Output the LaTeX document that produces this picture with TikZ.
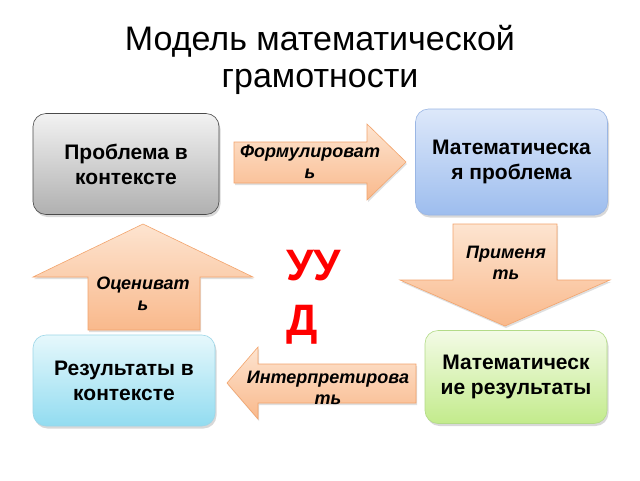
\documentclass[tikz,border=0pt]{standalone}
\usepackage{fontspec}
\setmainfont{Liberation Sans}
\usetikzlibrary{shadows}

\definecolor{arrowtop}{HTML}{FDE4D0}
\definecolor{arrowbot}{HTML}{F9B98C}
\definecolor{arrowline}{HTML}{F3A46C}
\definecolor{graytop}{HTML}{F2F2F2}
\definecolor{graybot}{HTML}{B0B0B0}
\definecolor{graydraw}{HTML}{4A4A4A}
\definecolor{bluetop}{HTML}{DDE8FA}
\definecolor{bluebot}{HTML}{9DBDEE}
\definecolor{bluedraw}{HTML}{9AB6E4}
\definecolor{cyantop}{HTML}{E6F8FC}
\definecolor{cyanbot}{HTML}{92DCF0}
\definecolor{cyandraw}{HTML}{9CD6E8}
\definecolor{greentop}{HTML}{F3FBE6}
\definecolor{greenbot}{HTML}{C3EB8C}
\definecolor{greendraw}{HTML}{B3DB88}
\definecolor{udred}{HTML}{FF0000}

\tikzset{
  box/.style={rectangle, rounded corners=13pt, line width=0.6pt,
    drop shadow={opacity=0.3, shadow xshift=1.5pt, shadow yshift=-2.5pt},
    font=\bfseries\fontsize{21}{25}\selectfont, align=center, inner sep=0pt},
  arrowshape/.style={draw=arrowline, line width=0.6pt,
    top color=arrowtop, bottom color=arrowbot,
    drop shadow={opacity=0.25, shadow xshift=1pt, shadow yshift=-2pt}},
  verb/.style={font=\bfseries\itshape\fontsize{18}{21}\selectfont,
    align=center, inner sep=0pt},
}

\begin{document}
\begin{tikzpicture}[x=1pt, y=-1pt]
    \fill[white] (0,0) rectangle (640,480);
    \useasboundingbox (0,0) rectangle (640,480);
    \node[font=\fontsize{34}{37}\selectfont, align=center, anchor=north,
        inner sep=0pt] (title) at (320,25)
        {Модель математической\\грамотности};% Title
    % block arrows
    \draw[arrowshape] (234,142) -- (367,142) -- (367,124) -- (406,162)
        -- (367,200) -- (367,183) -- (234,183) -- cycle;
    \draw[arrowshape] (88,330) -- (88,277) -- (33,277) -- (143,224)
        -- (253,277) -- (200,277) -- (200,330) -- cycle;
    \draw[arrowshape] (453,224) -- (557,224) -- (557,280) -- (610,280)
        -- (505,326) -- (400,280) -- (453,280) -- cycle;
    \draw[arrowshape] (416,364) -- (258,364) -- (258,347) -- (227,383)
        -- (258,419) -- (258,403) -- (416,403) -- cycle;
    \node[verb] (formulate) at (310,162) {Формулироват\\ь};
    \node[verb] (evaluate) at (143,294) {Оцениват\\ь};
    \node[verb] (employ) at (506,263) {Применя\\ть};
    \node[verb] (interpret) at (328,388) {Интерпретирова\\ть};
    % the four boxes
    \node[box, draw=graydraw, top color=graytop, bottom color=graybot,
        minimum width=186pt, minimum height=101pt] (context) at (126,164)
        {Проблема в\\контексте};
    \node[box, draw=bluedraw, top color=bluetop, bottom color=bluebot,
        minimum width=192pt, minimum height=106pt] (mathprob) at (511.5,162)
        {Математическа\\я проблема};
    \node[box, draw=cyandraw, top color=cyantop, bottom color=cyanbot,
        minimum width=182pt, minimum height=91pt] (results) at (124,380.5)
        {Результаты в\\контексте};
    \node[box, draw=greendraw, top color=greentop, bottom color=greenbot,
        minimum width=182pt, minimum height=93pt] (mathres) at (516,377)
        {Математическ\\ие результаты};
    \node[font=\bfseries\fontsize{44}{55}\selectfont, text=udred, align=left,
        anchor=north west, inner sep=0pt] (uud) at (286,250) {УУ\\Д};
\end{tikzpicture}
\end{document}
